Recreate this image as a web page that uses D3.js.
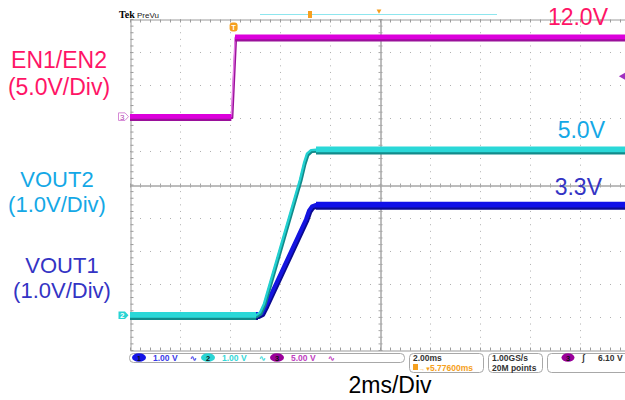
<!DOCTYPE html>
<html><head><meta charset="utf-8">
<script src="https://cdn.jsdelivr.net/npm/d3@7"></script>
<style>
body{margin:0;background:#fff;}
svg{display:block;font-family:"Liberation Sans",Arial,sans-serif;}
</style>
</head><body>
<svg id="c" width="625" height="400"></svg>
<script>
// ---------------- data ----------------
const timePerDiv = 2;          // ms / div
const triggerPos = 5.776;      // ms (trigger -> expansion point)
const triggerLevel = 6.10;     // V on ch3
const sampleRate = "1.00GS/s";
const recordLength = "20M points";

const chNames   = ["ch1", "ch2", "ch3"];
const voltsPerDiv = [1, 1, 5];
const offsetDiv   = [-3.95, -3.95, 2.05];

// EN1/EN2 (ch3)
const en_t = [-4.224, -0.17, -0.02, 15.776];
const en_v = [0, 0, 12, 12];
// VOUT2 (ch2)
const vout2_t = [-4.224, 0.816, 0.976, 1.136, 2.576, 2.736, 2.856, 3.016, 3.216, 15.776];
const vout2_v = [0, 0, 0.08, 0.35, 4.1, 4.6, 4.88, 4.99, 5.0, 5.0];
// VOUT1 (ch1)
const vout1_t = [-4.224, 0.896, 1.056, 1.216, 2.816, 2.936, 3.056, 3.216, 15.776];
const vout1_v = [0, 0, 0.06, 0.3, 2.9, 3.16, 3.29, 3.33, 3.33];

const leftLabels  = [["EN1/EN2", "(5.0V/Div)"], ["VOUT2", "(1.0V/Div)"], ["VOUT1", "(1.0V/Div)"]];
const rightLabels = ["12.0V", "5.0V", "3.3V"];
const xLabel = "2ms/Div";

// ---------------- layout ----------------
const svg = d3.select("#c");
const X0 = 130, X1 = 630, Y0 = 19, Y1 = 350, ND = 10;
const tStart = -(ND / 2) * timePerDiv + triggerPos;
const xs = d3.scaleLinear().domain([tStart, tStart + ND * timePerDiv]).range([X0, X1]);
const yFor = i => d3.scaleLinear()
  .domain([(-ND / 2 - offsetDiv[i]) * voltsPerDiv[i], (ND / 2 - offsetDiv[i]) * voltsPerDiv[i]])
  .range([Y1, Y0]);
const y1 = yFor(0), y2 = yFor(1), y3 = yFor(2);
const xDiv = d3.scaleLinear().domain([-5, 5]).range([X0, X1]);
const yDiv = d3.scaleLinear().domain([-5, 5]).range([Y1, Y0]);

// ---------------- graticule ----------------
const g = svg.append("g");
const grid = g.append("g").attr("stroke", "#b0b0b0").attr("stroke-width", 1);
d3.range(-4, 5).filter(k => k !== 0).forEach(k => {
  grid.append("line").attr("x1", X0).attr("x2", X1).attr("y1", Math.round(yDiv(k)) + 0.5).attr("y2", Math.round(yDiv(k)) + 0.5)
    .attr("stroke-dasharray", "1,9");
  grid.append("line").attr("y1", Y0).attr("y2", Y1).attr("x1", xDiv(k) + 0.5).attr("x2", xDiv(k) + 0.5)
    .attr("stroke-dasharray", "1," + ((Y1 - Y0) / 50 - 1));
});
const minorX = d3.range(-5, 5.001, 0.2), minorY = d3.range(-5, 5.001, 0.2);
function styleAxis(sel, col) {
  sel.selectAll("text").remove();
  sel.selectAll("path.domain").attr("stroke", col);
  sel.selectAll(".tick line").attr("stroke", col);
}
const axCol = "#a6a6a6";
[d3.axisBottom, d3.axisTop].forEach(a => {
  g.append("g").attr("transform", `translate(0,${Math.round(yDiv(0)) + 0.5})`)
    .call(a(xDiv).tickValues(minorX).tickSize(2).tickSizeOuter(0).tickFormat(""))
    .call(s => styleAxis(s, axCol));
});
[d3.axisLeft, d3.axisRight].forEach(a => {
  g.append("g").attr("transform", `translate(${xDiv(0) + 0.5},0)`)
    .call(a(yDiv).tickValues(minorY).tickSize(2).tickSizeOuter(0).tickFormat(""))
    .call(s => styleAxis(s, axCol));
});
g.append("g").attr("transform", `translate(0,${Y0 + 0.5})`)
  .call(d3.axisBottom(xDiv).tickValues(minorX).tickSize(3).tickSizeOuter(0).tickFormat(""))
  .call(s => styleAxis(s, "#9a9a9a"));
g.append("g").attr("transform", `translate(0,${Y1 + 0.5})`)
  .call(d3.axisTop(xDiv).tickValues(minorX).tickSize(3).tickSizeOuter(0).tickFormat(""))
  .call(s => styleAxis(s, "#9a9a9a"));
g.append("g").attr("transform", `translate(${X0 + 0.5},0)`)
  .call(d3.axisRight(yDiv).tickValues(minorY).tickSize(3).tickSizeOuter(0).tickFormat(""))
  .call(s => styleAxis(s, "#9a9a9a"));

// ---------------- traces ----------------
function zip(t, v) { return t.map((d, i) => [d, v[i]]); }
function drawTrace(t, v, ys, o) {
  const pts = zip(t, v);
  const line = d3.line().x(d => xs(d[0])).y(d => ys(d[1]));
  const tg = svg.append("g").attr("fill", "none").attr("stroke-linejoin", "round");
  tg.append("path").attr("d", line(pts)).attr("stroke", o.dark).attr("stroke-width", o.rampW + 1)
    .attr("transform", "translate(0.8,1.2)");
  tg.append("path").attr("d", line(pts)).attr("stroke", o.ramp).attr("stroke-width", o.rampW);
  for (let i = 0; i < pts.length - 1; i++) {
    if (pts[i][1] === pts[i + 1][1]) {
      const seg = [pts[i], pts[i + 1]];
      tg.append("path").attr("d", line(seg)).attr("stroke", o.dark).attr("stroke-width", o.flatW)
        .attr("transform", "translate(0,1.3)");
      tg.append("path").attr("d", line(seg)).attr("stroke", o.col).attr("stroke-width", o.flatW - 1.3)
        .attr("transform", "translate(0,-0.3)");
    }
  }
}
drawTrace(en_t, en_v, y3, { col: "#dc00dc", ramp: "#e27ae2", dark: "#9a109a", rampW: 1.4, flatW: 6 });
drawTrace(vout1_t, vout1_v, y1, { col: "#1010e8", ramp: "#1414e0", dark: "#0a0a90", rampW: 4, flatW: 7 });
drawTrace(vout2_t, vout2_v, y2, { col: "#2ad8d8", ramp: "#22d0d0", dark: "#128a8a", rampW: 2.4, flatW: 7 });

// ---------------- markers ----------------
const gm3 = svg.append("g").attr("transform", `translate(128.5,${y3(0)})`);
gm3.append("path").attr("d", "M-10,-3.8H-3.5L0,0L-3.5,3.8H-10Z").attr("fill", "#fff").attr("stroke", "#d68ad6").attr("stroke-width", 1);
gm3.append("text").attr("x", -6.3).attr("y", 3).attr("text-anchor", "middle").attr("font-size", 8).attr("fill", "#b040b0").text("3");
const gm2 = svg.append("g").attr("transform", `translate(128.5,${y2(0)})`);
gm2.append("path").attr("d", "M-10,-3.8H-3.5L0,0L-3.5,3.8H-10Z").attr("fill", "#28d4d4");
gm2.append("text").attr("x", -6.3).attr("y", 3).attr("text-anchor", "middle").attr("font-size", 8).attr("font-weight", "bold").attr("fill", "#fff").text("2");
const tm = svg.append("g").attr("transform", `translate(${xs(0) - 2},27)`);
tm.append("rect").attr("x", -4).attr("y", -4.5).attr("width", 8).attr("height", 9).attr("rx", 3).attr("fill", "#f5a020");
tm.append("text").attr("y", 3).attr("text-anchor", "middle").attr("font-size", 7.5).attr("font-weight", "bold").attr("fill", "#fff").text("T");
svg.append("path").attr("d", d3.symbol(d3.symbolTriangle, 22)())
  .attr("transform", `translate(623,${y3(triggerLevel)}) rotate(-90)`).attr("fill", "#a030c0");
svg.append("line").attr("x1", 260).attr("x2", 497).attr("y1", 14.5).attr("y2", 14.5).attr("stroke", "#8ee6ee").attr("stroke-width", 1.2);
svg.append("rect").attr("x", 308).attr("y", 11).attr("width", 4).attr("height", 7).attr("fill", "#f5a020");
svg.append("path").attr("d", d3.symbol(d3.symbolTriangle, 10)()).attr("transform", `translate(${xDiv(0) - 1},11) rotate(180)`).attr("fill", "#f5a020");
svg.append("text").attr("x", 119).attr("y", 18).attr("font-family", "Liberation Serif").attr("font-weight", "bold").attr("font-size", 10).attr("fill", "#000").text("Tek");
svg.append("text").attr("x", 137).attr("y", 18).attr("font-size", 8).attr("fill", "#222").text("PreVu");

// ---------------- status bar ----------------
const sb = svg.append("g").attr("font-weight", "bold").attr("font-size", 8.5);
const boxes = [[129, 404, 353, 362], [409, 483, 353, 372], [488, 542, 353, 372], [547, 640, 353, 372]];
boxes.forEach(b => sb.append("rect").attr("x", b[0] + 0.5).attr("y", b[2] + 0.5).attr("width", b[1] - b[0]).attr("height", b[3] - b[2])
  .attr("rx", 4).attr("fill", "#fff").attr("stroke", "#a8a8a8"));
const pillCol = ["#1414e6", "#2ad4d4", "#9a009a"];
const txtCol = ["#3a3ae8", "#36d8d8", "#c040c0"];
const chX = [139, 208, 277];
voltsPerDiv.forEach((v, i) => {
  sb.append("ellipse").attr("cx", chX[i]).attr("cy", 357.5).attr("rx", 7).attr("ry", 4.3).attr("fill", pillCol[i]);
  sb.append("text").attr("x", chX[i]).attr("y", 360.5).attr("text-anchor", "middle").attr("font-size", 7.5).attr("fill", "#111").text(i + 1);
  sb.append("text").attr("x", chX[i] + 14).attr("y", 361).attr("fill", txtCol[i]).text(d3.format(".2f")(v) + " V");
  sb.append("text").attr("x", chX[i] + 51).attr("y", 361).attr("font-size", 7.5).attr("fill", txtCol[i]).text("∿");
});
sb.append("text").attr("x", 413).attr("y", 361).attr("fill", "#333").text(d3.format(".2f")(timePerDiv) + "ms");
sb.append("rect").attr("x", 413).attr("y", 364).attr("width", 5).attr("height", 6).attr("fill", "#f5a020");
sb.append("text").attr("x", 419).attr("y", 370.5).attr("font-size", 6).attr("fill", "#f5a020").text("→▼");
sb.append("text").attr("x", 430).attr("y", 370.5).attr("fill", "#f5a020").text(d3.format(".5f")(triggerPos) + "ms");
sb.append("text").attr("x", 492).attr("y", 361).attr("fill", "#333").text(sampleRate);
sb.append("text").attr("x", 492).attr("y", 370.5).attr("fill", "#333").text(recordLength);
sb.append("ellipse").attr("cx", 568).attr("cy", 357.5).attr("rx", 6.5).attr("ry", 4.3).attr("fill", pillCol[2]);
sb.append("text").attr("x", 568).attr("y", 360.5).attr("text-anchor", "middle").attr("font-size", 7.5).attr("fill", "#111").text("3");
sb.append("text").attr("x", 582).attr("y", 361).attr("fill", "#333").text("ʃ");
sb.append("text").attr("x", 598).attr("y", 361).attr("fill", "#333").text(d3.format(".2f")(triggerLevel) + " V");

// ---------------- annotation text ----------------
const lcol = ["#ff1466", "#14a8e6", "#3434c4"];
const lx = [59, 57, 62];
const lfs = [23, 22, 22];
const lyy = [[68, 95], [187, 212], [273, 298]];
leftLabels.forEach((pair, i) => pair.forEach((s, j) =>
  svg.append("text").attr("x", lx[i]).attr("y", lyy[i][j]).attr("text-anchor", "middle")
    .attr("font-size", lfs[i]).attr("fill", lcol[i]).text(s)));
const ry = [25, 138, 195], rx = [608, 605, 602];
rightLabels.forEach((s, i) => svg.append("text").attr("x", rx[i]).attr("y", ry[i]).attr("text-anchor", "end")
  .attr("font-size", 23).attr("fill", lcol[i]).text(s));
svg.append("text").attr("x", 390).attr("y", 393).attr("text-anchor", "middle").attr("font-size", 23).attr("fill", "#000").text(xLabel);
</script>
</body></html>
